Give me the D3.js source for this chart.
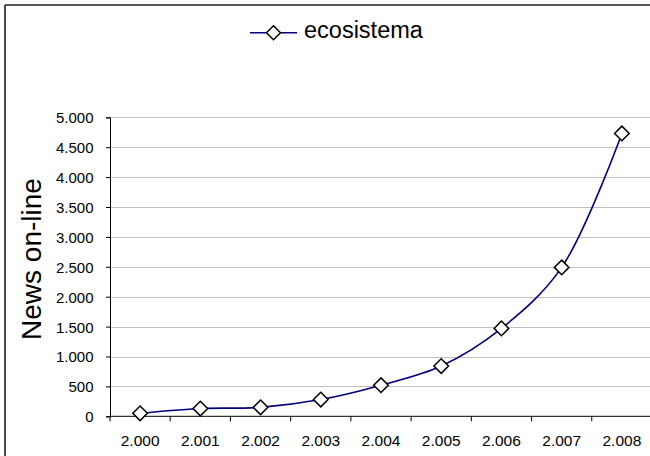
<!DOCTYPE html>
<html><head><meta charset="utf-8">
<script src="https://cdn.jsdelivr.net/npm/d3@7"></script>
<style>html,body{margin:0;padding:0;background:#fff;}svg{display:block;font-family:"Liberation Sans",Arial,sans-serif;}</style>
</head><body>
<script>
const categories = ["2.000","2.001","2.002","2.003","2.004","2.005","2.006","2.007","2.008"];
const values = [50,130,150,280,520,840,1470,2490,4730];
const seriesName = "ecosistema";
const yTicks = [0,500,1000,1500,2000,2500,3000,3500,4000,4500,5000];
const yTitle = "News on-line";

(function(){
const W = 650, H = 456;
const svg = d3.select("body").append("svg").attr("width", W).attr("height", H);

// outer chart border (cropped at right/bottom)
svg.append("line").attr("x1",5).attr("x2",W).attr("y1",5).attr("y2",5).attr("stroke","#555").attr("stroke-width",2);
svg.append("line").attr("x1",5).attr("x2",5).attr("y1",5).attr("y2",H).attr("stroke","#111").attr("stroke-width",1.5);

const pLeft = 110, pRight = 652, pTop = 117.3, pBottom = 416.3;
const x = d3.scaleBand().domain(categories).range([pLeft, pRight]);
const y = d3.scaleLinear().domain([0,5000]).range([pBottom, pTop]);

const loc = d3.formatLocale({decimal:",", thousands:".", grouping:[3], currency:["",""]});
const fmt = loc.format(",");

// gridlines
svg.append("g").selectAll("line").data(yTicks.filter(d=>d>0)).join("line")
  .attr("x1", pLeft).attr("x2", W).attr("y1", d=>Math.round(y(d))+0.5).attr("y2", d=>Math.round(y(d))+0.5)
  .attr("stroke","#c0c0c0").attr("stroke-width",1);

// y axis
const ya = svg.append("g").attr("transform",`translate(${pLeft},0)`)
  .call(d3.axisLeft(y).tickValues(yTicks).tickFormat(fmt).tickSize(4).tickPadding(12.5));
ya.select(".domain").attr("stroke","#000");
ya.selectAll(".tick line").attr("stroke","#000");
ya.selectAll("text").attr("font-size",15).attr("fill","#000").attr("font-family","Liberation Sans, Arial, sans-serif").attr("dy","0.36em");

// x axis
const xa = svg.append("g").attr("transform",`translate(0,${pBottom})`)
  .call(d3.axisBottom(x).tickSize(0).tickPadding(0));
xa.select(".domain").attr("stroke","#000").attr("d", `M${pLeft},0H${W}`);
xa.selectAll(".tick text").attr("font-size",15.5).attr("fill","#000").attr("font-family","Liberation Sans, Arial, sans-serif").attr("dy",null).attr("y",29.5);
// band boundary ticks
const bounds = categories.map(c => x(c));
svg.append("g").selectAll("line").data(bounds).join("line")
  .attr("x1", d=>d).attr("x2", d=>d).attr("y1", pBottom).attr("y2", pBottom+5).attr("stroke","#000");

// y title
svg.append("text").attr("transform",`translate(41,259) rotate(-90)`).attr("text-anchor","middle")
  .attr("font-size",28).attr("fill","#000").text(yTitle);

// line
const cx = c => x(c) + x.bandwidth()/2;
const line = d3.line().x((d,i)=>cx(categories[i])).y(d=>y(d)).curve(d3.curveCatmullRom.alpha(0.5));
svg.append("path").datum(values).attr("d", line).attr("fill","none").attr("stroke","#000080").attr("stroke-width",1.6);

const diamond = r => `M0,${-r}L${r},0L0,${r}L${-r},0Z`;
svg.append("g").selectAll("path").data(values).join("path")
  .attr("transform",(d,i)=>`translate(${cx(categories[i])},${y(d)})`)
  .attr("d", diamond(7.3)).attr("fill","#fff").attr("stroke","#000").attr("stroke-width",1.5);

// legend
const lg = svg.append("g");
lg.append("line").attr("x1",250).attr("x2",297).attr("y1",32.7).attr("y2",32.7).attr("stroke","#000080").attr("stroke-width",1.6);
lg.append("path").attr("transform","translate(273.5,32.7)").attr("d",diamond(7)).attr("fill","#fff").attr("stroke","#000").attr("stroke-width",1.5);
lg.append("text").attr("x",304).attr("y",37.5).attr("font-size",23.5).attr("fill","#000").text(seriesName);
})();
</script>
</body></html>
